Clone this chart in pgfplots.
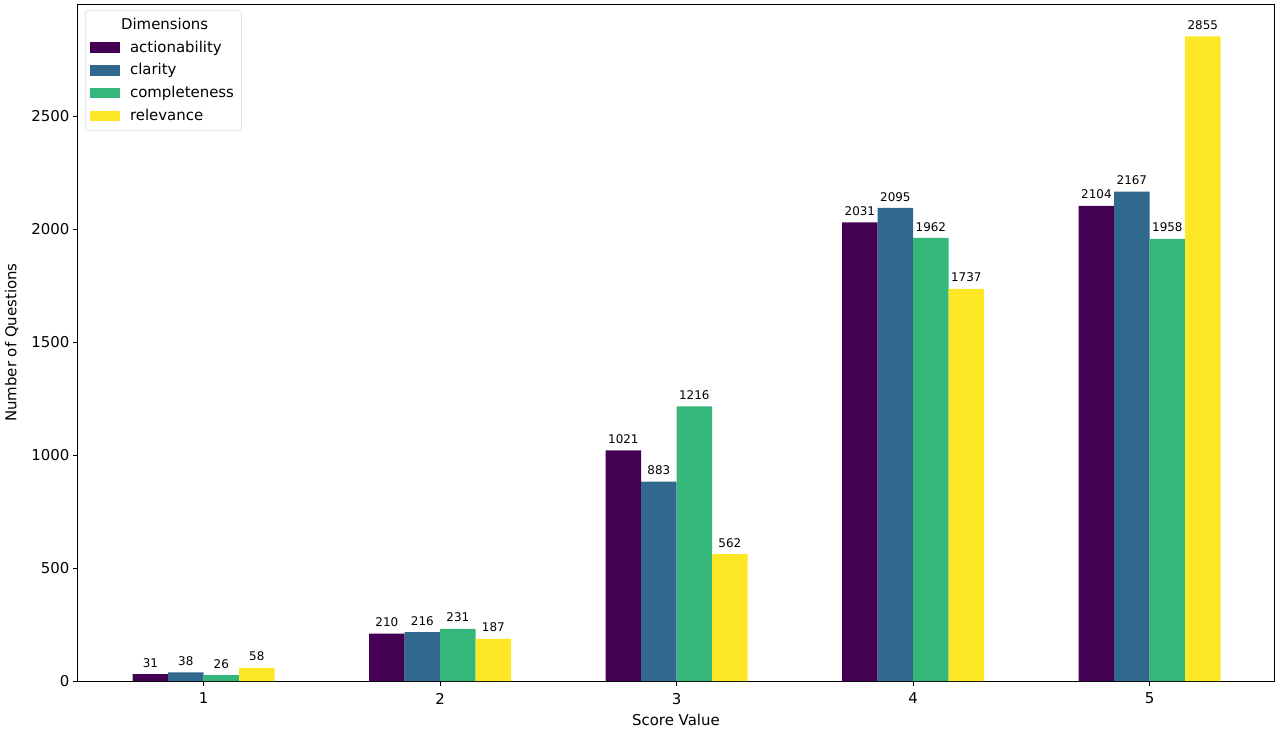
\documentclass[border=0pt]{standalone}
\usepackage{fontspec}
\setmainfont{DejaVu Sans}
\usepackage{pgfplots}
\pgfplotsset{compat=1.18}
\definecolor{vA}{HTML}{440154}
\definecolor{vB}{HTML}{31688E}
\definecolor{vC}{HTML}{35B779}
\definecolor{vD}{HTML}{FDE725}

\begin{document}
\begin{tikzpicture}
\begin{axis}[
  scale only axis,
  width=801pt, height=453.3pt,
  xmin=0.468, xmax=5.526,
  ymin=0, ymax=2998,
  ybar=0pt, bar width=0.15,
  xtick={1,2,3,4,5},
  ytick={0,500,1000,1500,2000,2500},
  tick align=outside,
  major tick length=3.5pt,
  tick style={black, line width=0.6pt},
  axis line style={line width=0.6pt},
  xtick pos=bottom, ytick pos=left,
  /pgf/number format/assume math mode=true,
  /pgf/number format/1000 sep={},
  ticklabel style={font=\fontsize{10}{12}\selectfont},
  yticklabel style={xshift=1.5pt},
  xticklabel style={yshift=-1pt},
  xlabel={Score Value}, ylabel={Number of Questions},
  label style={font=\fontsize{10}{12}\selectfont},
  xlabel style={yshift=0pt},
  ylabel style={yshift=2pt},
  clip=false,
  point meta=y,
  nodes near coords={\pgfmathprintnumber[assume math mode=true,1000 sep={},fixed,precision=0]{\pgfplotspointmeta}},
  every node near coord/.append style={font=\fontsize{8}{9}\selectfont, black, yshift=1pt},
  legend cell align=left,
  legend style={at={(0.006,0.991)}, anchor=north west, draw=black!13, rounded corners=2pt,
    fill=white, font=\fontsize{10}{12}\selectfont, row sep=2.2pt, inner sep=3pt},
  legend image code/.code={\fill[#1, sharp corners] (0pt,-3.5pt) rectangle (20pt,3.5pt); \path (25pt,0pt);},
]
\addlegendimage{empty legend}
\addlegendentry{\hspace{-6pt}Dimensions}
\addplot[fill=vA, draw=none] coordinates {(1,31) (2,210) (3,1021) (4,2031) (5,2104)};
\addlegendentry{actionability}
\addplot[fill=vB, draw=none] coordinates {(1,38) (2,216) (3,883) (4,2095) (5,2167)};
\addlegendentry{clarity}
\addplot[fill=vC, draw=none] coordinates {(1,26) (2,231) (3,1216) (4,1962) (5,1958)};
\addlegendentry{completeness}
\addplot[fill=vD, draw=none] coordinates {(1,58) (2,187) (3,562) (4,1737) (5,2855)};
\addlegendentry{relevance}
\end{axis}
\path (current axis.north east) ++(4pt,2.7pt);
\path (current axis.south west) ++(-48.5pt,-31.3pt);
\end{tikzpicture}
\end{document}
